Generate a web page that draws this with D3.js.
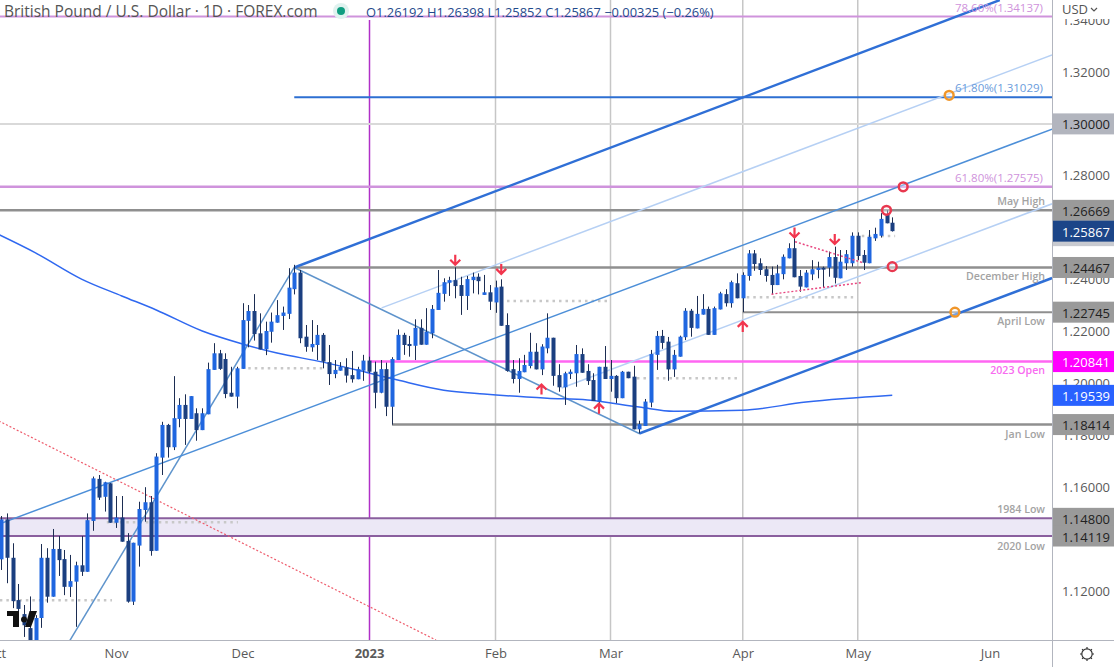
<!DOCTYPE html>
<html><head><meta charset="utf-8">
<script src="https://cdn.jsdelivr.net/npm/d3@7/dist/d3.min.js"></script>
<style>html,body{margin:0;padding:0;background:#fff;overflow:hidden}svg{display:block}text{font-family:"Open Sans",sans-serif}</style>
</head><body><svg id="c" width="1114" height="667"></svg>
<script>
// daily GBP/USD candles, one weekday per entry, 4 Oct 2022 to 9 May 2023
const opens=[1.1322,1.1476,1.1328,1.1165,1.1111,1.1057,1.0934,1.1096,1.1328,1.1178,
1.1362,1.1323,1.1216,1.1236,1.1299,1.1274,1.1470,1.1632,1.1563,1.1615,
1.1463,1.1483,1.1393,1.1159,1.1375,1.1512,1.1542,1.1355,1.1714,1.1840,
1.1754,1.1863,1.1917,1.1863,1.1885,1.1820,1.1881,1.2052,1.2116,1.2094,
1.1964,1.1949,1.2056,1.2241,1.2279,1.2193,1.2131,1.2199,1.2234,1.2260,
1.2268,1.2363,1.2427,1.2180,1.2139,1.2148,1.2187,1.2082,1.2036,1.2049,
1.2062,1.2032,1.2016,1.2049,1.2088,1.2045,1.1964,1.2055,1.1910,1.2090,
1.2187,1.2152,1.2145,1.2214,1.2149,1.2193,1.2283,1.2345,1.2388,1.2398,
1.2379,1.2337,1.2398,1.2411,1.2341,1.2351,1.2312,1.2373,1.2225,1.2055,
1.2017,1.2043,1.2067,1.2122,1.2054,1.2135,1.2176,1.2032,1.1985,1.2036,
1.2039,1.2113,1.2048,1.2013,1.1929,1.2064,1.2017,1.2029,1.1943,1.2045,
1.2026,1.1823,1.1836,1.1926,1.2110,1.2183,1.2161,1.2054,1.2103,1.2178,
1.2280,1.2212,1.2265,1.2287,1.2187,1.2285,1.2344,1.2309,1.2386,1.2328,
1.2414,1.2501,1.2463,1.2440,1.2418,1.2379,1.2421,1.2482,1.2521,1.2414,
1.2370,1.2420,1.2437,1.2446,1.2446,1.2487,1.2405,1.2463,1.2463,1.2569,
1.2495,1.2463,1.2559,1.2569,1.2651,1.26192];
const closes=[1.1476,1.1328,1.1161,1.1131,1.1068,1.0992,1.1096,1.1328,1.1178,1.1362,
1.1319,1.1216,1.1238,1.1299,1.1274,1.1473,1.1634,1.1560,1.1619,1.1463,
1.1483,1.1390,1.1159,1.1386,1.1516,1.1542,1.1354,1.1718,1.1840,1.1754,
1.1866,1.1917,1.1863,1.1951,1.1820,1.1885,1.2055,1.2116,1.2056,1.1959,
1.1949,1.2058,1.2244,1.2279,1.2190,1.2131,1.2202,1.2238,1.2263,1.2273,
1.2369,1.2427,1.2174,1.2141,1.2152,1.2187,1.2084,1.2036,1.2052,1.2064,
1.2030,1.2016,1.2055,1.2088,1.2045,1.1964,1.2055,1.1910,1.2094,1.2187,
1.2148,1.2144,1.2214,1.2149,1.2199,1.2287,1.2349,1.2390,1.2398,1.2375,
1.2337,1.2402,1.2411,1.2394,1.2351,1.2315,1.2370,1.2222,1.2048,1.2017,
1.2048,1.2071,1.2122,1.2054,1.2142,1.2176,1.2029,1.1985,1.2039,1.2045,
1.2113,1.2041,1.2009,1.1932,1.2064,1.2017,1.2029,1.1943,1.2045,1.2020,
1.1823,1.1843,1.1930,1.2113,1.2183,1.2156,1.2054,1.2110,1.2180,1.2280,
1.2214,1.2268,1.2287,1.2187,1.2290,1.2347,1.2309,1.2390,1.2328,1.2418,
1.2501,1.2460,1.2437,1.2414,1.2379,1.2424,1.2488,1.2521,1.2409,1.2373,
1.2427,1.2440,1.2446,1.2440,1.2487,1.2407,1.2469,1.2498,1.2569,1.2491,
1.2465,1.2565,1.2576,1.2634,1.2617,1.25867];
const highs=[1.1489,1.1499,1.1384,1.1227,1.1146,1.1179,1.1107,1.1381,1.1365,1.1439,
1.1412,1.1358,1.1339,1.1313,1.1412,1.1499,1.1641,1.1647,1.1621,1.1616,
1.1566,1.1566,1.1423,1.1386,1.1544,1.1600,1.1566,1.1731,1.1852,1.1844,
1.2028,1.1943,1.1958,1.1951,1.1904,1.1904,1.2080,1.2155,1.2129,1.2116,
1.2064,1.2064,1.2309,1.2302,1.2344,1.2270,1.2238,1.2273,1.2321,1.2296,
1.2444,1.2457,1.2437,1.2225,1.2244,1.2225,1.2194,1.2148,1.2090,1.2082,
1.2097,1.2125,1.2064,1.2110,1.2103,1.2084,1.2090,1.2080,1.2101,1.2208,
1.2195,1.2183,1.2247,1.2247,1.2290,1.2302,1.2437,1.2405,1.2411,1.2447,
1.2411,1.2414,1.2427,1.2424,1.2418,1.2379,1.2396,1.2401,1.2270,1.2090,
1.2097,1.2110,1.2195,1.2155,1.2151,1.2270,1.2176,1.2074,1.2045,1.2054,
1.2148,1.2135,1.2074,1.2039,1.2064,1.2144,1.2090,1.2032,1.2048,1.2045,
1.2068,1.1856,1.1940,1.2129,1.2202,1.2206,1.2179,1.2129,1.2184,1.2290,
1.2287,1.2337,1.2344,1.2296,1.2296,1.2353,1.2363,1.2396,1.2424,1.2428,
1.2514,1.2514,1.2482,1.2452,1.2450,1.2457,1.2497,1.2540,1.2565,1.2437,
1.2437,1.2475,1.2469,1.2450,1.2508,1.2527,1.2514,1.2514,1.2582,1.2582,
1.2514,1.2591,1.2600,1.2656,1.2667,1.26398];
const lows=[1.1281,1.1230,1.1134,1.1119,1.1023,1.0973,1.0919,1.1058,1.1155,1.1178,
1.1258,1.1184,1.1177,1.1062,1.1258,1.1274,1.1432,1.1551,1.1506,1.1463,
1.1443,1.1390,1.1155,1.1146,1.1294,1.1467,1.1336,1.1355,1.1647,1.1714,
1.1743,1.1831,1.1763,1.1863,1.1779,1.1820,1.1881,1.2052,1.2052,1.1943,
1.1949,1.1904,1.2056,1.2139,1.2165,1.2131,1.2109,1.2157,1.2234,1.2206,
1.2248,1.2343,1.2155,1.2122,1.2122,1.2090,1.2058,1.1994,1.2020,1.2049,
1.2003,1.2003,1.2016,1.2010,1.2039,1.1904,1.1962,1.1874,1.1841,1.2090,
1.2110,1.2103,1.2090,1.2149,1.2149,1.2174,1.2283,1.2315,1.2337,1.2328,
1.2264,1.2283,1.2347,1.2343,1.2341,1.2283,1.2272,1.2222,1.2045,1.2000,
1.1964,1.2043,1.2058,1.2054,1.2032,1.2116,1.1991,1.1968,1.1917,1.2017,
1.1987,1.2041,1.1994,1.1932,1.1924,1.2017,1.1968,1.1924,1.1943,1.2020,
1.1823,1.1807,1.1836,1.1908,1.2052,1.2133,1.2010,1.2025,1.2103,1.2167,
1.2180,1.2212,1.2265,1.2187,1.2187,1.2285,1.2296,1.2292,1.2328,1.2275,
1.2396,1.2434,1.2418,1.2392,1.2344,1.2379,1.2401,1.2482,1.2409,1.2353,
1.2370,1.2398,1.2405,1.2369,1.2411,1.2385,1.2405,1.2437,1.2450,1.2475,
1.2437,1.2463,1.2549,1.2562,1.2617,1.25852];

// 200-day moving average: candle index, price
const smaIndex=[-1,6,14,21,27,35,42,48,56,64,69,77,84,95,102,111,117,129,140,155];
const smaValue=[1.2580,1.2503,1.2402,1.2337,1.2283,1.2202,1.2152,1.2117,1.2082,1.2040,1.2013,1.1974,1.1959,1.1943,1.1936,1.1909,1.1893,1.1897,1.1928,1.19539];

// time axis
const monthIndex=[-1,20,42,64,86,106,129,149,172];
const monthLabels=["Oct","Nov","Dec","2023","Feb","Mar","Apr","May","Jun"];
const gridIndex=[86,106,129,149];
const yearIndex=64;
// price axis
const priceTicks=[1.34,1.32,1.28,1.24,1.22,1.20,1.18,1.16,1.12];

// levels
const fib786=1.34137, fib618Blue=1.31029, fib618Purple=1.27575;
const psych=1.30, mayHigh=1.26669, decHigh=1.24467, aprLow=1.22745, open2023=1.20841, janLow=1.18414, low1984=1.148, low2020=1.14119;
const lastPrice=1.25867, smaLast=1.19539;
const levelStart={fib618Blue:51,decHigh:51,aprLow:129,open2023:64,janLow:68};

// pitchfork and trendlines as [candle index, price] pairs
const forkUpper=[[51,1.24467],[173.7,1.3477]];
const forkLower=[[111,1.1807],[182.8,1.2406]];
const forkHandle=[[51,1.24467],[111,1.1807]];
const forkMedian=[[-1,1.1452],[182.8,1.2980]];
const forkInnerUp=[[66.2,1.2291],[182.8,1.3266]];
const forkInnerLow=[[97.5,1.1982],[182.8,1.2692]];
const forkLeft=[[9.2,1.0907],[51,1.24467]];
const redTrend=[[-1,1.1862],[75.65,1.1011]];
const pinkTop=[[138.1,1.2546],[149.9,1.2465]];
const pinkBottom=[[134,1.2344],[149.7,1.2388]];
// dotted swing levels: start index, end index, price
const swingLevels=[[-0.2,19.3,1.1164],[18.4,41.2,1.1465],[43,56.3,1.2058],[88,105.4,1.2318],[110.6,128.5,1.2020],[129.7,148.2,1.2332],[149.7,155.5,1.2568]];
// reversal arrows: candle index, price at tip
const downArrows=[[79,1.2457],[87,1.2422],[138,1.2562],[145,1.2537]];
const upArrows=[[94,1.1996],[104,1.1922],[129,1.2237]];
// circles
const redMarks=[[156.9,1.27575],[154,1.26669],[155,1.2450]];
const orangeMarks=[[164.9,1.3110],[165.9,1.22745]];

const W=1052,H=640;
const x=d3.scaleLinear().domain([0,172]).range([1,990]);
const y=d3.scaleLinear().domain([1.32,1.12]).range([72,591]);
const svg=d3.select("#c");
svg.append("defs").append("clipPath").attr("id","plot").append("rect").attr("width",W).attr("height",H);
const plot=svg.append("g").attr("clip-path","url(#plot)");
const seg=(g,pts,color,w,dash)=>g.append("path").attr("d",d3.line().x(d=>x(d[0])).y(d=>y(d[1]))(pts)).attr("fill","none").attr("stroke",color).attr("stroke-width",w).attr("stroke-dasharray",dash||null);
const hline=(price,start,color,w)=>plot.append("line").attr("x1",start==null?0:x(start)).attr("x2",W).attr("y1",y(price)).attr("y2",y(price)).attr("stroke",color).attr("stroke-width",w);

// month gridlines
gridIndex.forEach(i=>plot.append("line").attr("x1",x(i)).attr("x2",x(i)).attr("y1",0).attr("y2",H).attr("stroke","#c6c6c6").attr("stroke-width",1.5));
plot.append("line").attr("x1",x(yearIndex)+.5).attr("x2",x(yearIndex)+.5).attr("y1",20).attr("y2",H).attr("stroke","#b030c8").attr("stroke-width",1.5);

// 1984/2020 band
plot.append("rect").attr("x",0).attr("width",W).attr("y",y(low1984)).attr("height",y(low2020)-y(low1984)).attr("fill","#ece8f6");
hline(low1984,null,"#8a5f9e",2); hline(low2020,null,"#8a5f9e",2);

// horizontal levels
hline(psych,null,"#d9d9d9",2);
hline(fib786,null,"#cf93dc",2);
hline(fib618Blue,levelStart.fib618Blue,"#2d6fd2",2);
hline(fib618Purple,null,"#cf93dc",2.5);
hline(mayHigh,null,"#8f8f8f",2.5);
hline(decHigh,levelStart.decHigh,"#8f8f8f",2.5);
hline(aprLow,levelStart.aprLow,"#8f8f8f",2);
hline(open2023,levelStart.open2023,"#ff66f2",2.5);
hline(janLow,levelStart.janLow,"#8f8f8f",2.5);

// swing dotted levels
swingLevels.forEach(s=>seg(plot,[[s[0],s[2]],[s[1],s[2]]],"#c8c8c8",2.5,"2.5 4"));

// pitchfork
seg(plot,redTrend,"#ee5c6c",1.2,"2 2");
seg(plot,forkLeft,"#5f94cc",1.5);
seg(plot,forkHandle,"#5f94cc",1.5);
seg(plot,forkMedian,"#4d8fd8",1.5);
seg(plot,forkInnerUp,"#b6d0f4",1.5);
seg(plot,forkInnerLow,"#b6d0f4",1.5);
seg(plot,forkUpper,"#2f6fd6",2.5);
seg(plot,forkLower,"#2f6fd6",2.5);

// moving average
plot.append("path").datum(smaIndex.map((d,i)=>[d,smaValue[i]])).attr("fill","none").attr("stroke","#2f68f0").attr("stroke-width",1.5)
  .attr("d",d3.line().x(d=>x(d[0])).y(d=>y(d[1])).curve(d3.curveMonotoneX));

// candles
const upCol="#1f66e0",downCol="#1b3f80";
const idx=d3.range(opens.length);
const cg=plot.append("g");
cg.selectAll("line").data(idx).join("line")
 .attr("x1",i=>Math.round(x(i))+.5).attr("x2",i=>Math.round(x(i))+.5).attr("y1",i=>y(highs[i])).attr("y2",i=>y(lows[i]))
 .attr("stroke","#1c2d52").attr("stroke-width",1);
cg.selectAll("rect").data(idx).join("rect")
 .attr("x",i=>Math.round(x(i))-1.5).attr("width",4)
 .attr("y",i=>y(Math.max(opens[i],closes[i])))
 .attr("height",i=>Math.max(2,Math.abs(y(opens[i])-y(closes[i]))))
 .attr("fill",i=>closes[i]>=opens[i]?upCol:downCol);

// pink dotted wedges (over candles)
seg(plot,pinkTop,"#e8457f",1.5,"2 2");
seg(plot,pinkBottom,"#e8457f",1.5,"2 2");

// arrows
const arrowRed="#f2364e";
const arrow=(d,dir)=>{const px=x(d[0]),py=y(d[1]);
  const s=dir; // +1 = points down, tip at py
  plot.append("path").attr("fill","none").attr("stroke",arrowRed).attr("stroke-width",2.2)
   .attr("d",`M${px},${py}L${px},${py-s*10}M${px-5,px-5},${py-s*5}L${px},${py}L${px+5},${py-s*5}`);};
downArrows.forEach(d=>arrow(d,1));
upArrows.forEach(d=>arrow(d,-1));

// circles
const circ=(d,c)=>plot.append("circle").attr("cx",x(d[0])).attr("cy",y(d[1])).attr("r",4.4).attr("fill","rgba(255,255,255,.35)").attr("stroke",c).attr("stroke-width",2.5);
redMarks.forEach(d=>circ(d,"#e8384f"));
orangeMarks.forEach(d=>circ(d,"#f0962a"));

// TradingView logo
const logo=plot.append("g").attr("fill","#111");
logo.append("path").attr("d","M7,611H19V627H13V616H7Z");
logo.append("circle").attr("cx",24).attr("cy",619.5).attr("r",3);
logo.append("path").attr("d","M29.5,611H37L31,627H25Z");

// chart labels
const lab=(t,px,py,col,anchor,fs,extra)=>{const n=svg.append("text").text(t).attr("x",px).attr("y",py).attr("fill",col).attr("text-anchor",anchor||"end").attr("dominant-baseline","central").attr("font-size",fs||11.5);if(extra)n.attr("font-weight",extra);return n;};
lab("78.60%(1.34137)",1043,7,"#cf93dc");
lab("61.80%(1.31029)",1043,87,"#6a9cdc");
lab("61.80%(1.27575)",1043,177,"#cf93dc");
const greyLab="#a3a3a3";
lab("May High",1045,201,greyLab,"end",10.6,600);
lab("December High",1045,276,greyLab,"end",10.6,600);
lab("April Low",1045,321,greyLab,"end",10.6,600);
lab("2023 Open",1045,370,"#f86cf0","end",10.6,600);
lab("Jan Low",1045,434,greyLab,"end",10.6,600);
lab("1984 Low",1045,509,greyLab,"end",10.6,600);
lab("2020 Low",1045,546,greyLab,"end",10.6,600);

// header
lab("British Pound / U.S. Dollar · 1D · FOREX.com",4,11,"#555","start",15.5);
svg.append("circle").attr("cx",341).attr("cy",11).attr("r",8).attr("fill","#e0f2ef");
svg.append("circle").attr("cx",341).attr("cy",11).attr("r",4).attr("fill","#0f9d80");
lab("O1.26192  H1.26398  L1.25852  C1.25867  −0.00325 (−0.26%)",366,12,"#1f4a8c","start",12.9);

// axes
const ax=svg.append("g").attr("transform",`translate(${W},0)`)
 .call(d3.axisRight(y).tickValues(priceTicks).tickSize(0).tickPadding(10).tickFormat(d3.format(".5f")));
ax.select(".domain").attr("stroke","#b2b5be").attr("stroke-width",1).attr("d",`M0.5,0V667`);
ax.selectAll("text").attr("fill","#5a5a5a").attr("font-size",13).attr("font-family",'"Open Sans",sans-serif');
svg.append("rect").attr("x",W+1).attr("y",0).attr("width",61).attr("height",19).attr("fill","#fff");
lab("USD",1062,9,"#555","start",13);
svg.append("path").attr("d","M1091,8l3,3l3,-3").attr("fill","none").attr("stroke","#555").attr("stroke-width",1.2);

const bx=svg.append("g").attr("transform",`translate(0,${H})`)
 .call(d3.axisBottom(x).tickValues(monthIndex).tickSize(0).tickPadding(9).tickFormat((d,i)=>monthLabels[i]));
bx.select(".domain").attr("stroke","#b2b5be").attr("d",`M0,0.5H1114`);
bx.selectAll("text").attr("fill","#5a5a5a").attr("font-size",13).attr("font-family",'"Open Sans",sans-serif').attr("font-weight",d=>d===yearIndex?700:400);
svg.append("rect").attr("x",W+1).attr("y",H+1).attr("width",61).attr("height",26).attr("fill","#fff");
svg.append("line").attr("x1",W+.5).attr("x2",W+.5).attr("y1",H).attr("y2",667).attr("stroke","#b2b5be");

// price tags
const tag=(p,bg,fg)=>{const c=y(p);
  svg.append("rect").attr("x",W+1).attr("y",c-10.5).attr("width",61).attr("height",21).attr("fill",bg);
  svg.append("text").text(d3.format(".5f")(p)).attr("x",1062).attr("y",c+.5).attr("fill",fg).attr("font-size",13).attr("dominant-baseline","central");};
svg.append("rect").attr("x",W+1).attr("y",y(lastPrice)+10).attr("width",61).attr("height",5).attr("fill","#c8cad0");
tag(psych,"#b2b5be","#222");
tag(mayHigh,"#9a9a9a","#222");
tag(lastPrice,"#1c4588","#fff");
tag(decHigh,"#9a9a9a","#222");
tag(aprLow,"#9a9a9a","#222");
tag(open2023,"#ff00ff","#fff");
tag(smaLast,"#2962ff","#fff");
tag(janLow,"#9a9a9a","#222");
tag(low1984,"#9a9a9a","#222");
tag(low2020,"#9a9a9a","#222");

// settings icon
const gx=1087,gy=654;
const gear=svg.append("g").attr("transform",`translate(${gx},${gy})`).attr("stroke","#333").attr("fill","none");
gear.append("circle").attr("r",5.2).attr("stroke-width",1.2);
d3.range(8).forEach(k=>{const a=k*Math.PI/4;gear.append("line").attr("x1",Math.cos(a)*5.2).attr("y1",Math.sin(a)*5.2).attr("x2",Math.cos(a)*7).attr("y2",Math.sin(a)*7).attr("stroke-width",1.2);});
</script></body></html>
